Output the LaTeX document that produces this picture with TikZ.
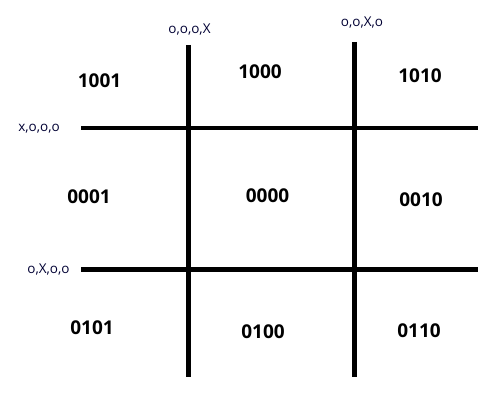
\documentclass[tikz,border=0pt]{standalone}
\usepackage{fontspec}
\setmainfont{Open Sans}
\begin{document}
\begin{tikzpicture}[x=1pt,y=-1pt,line cap=butt,
  code/.style={font=\fontsize{19}{21}\selectfont\bfseries},
  tag/.style={font=\fontsize{13.5}{15}\selectfont,text=black!80!blue}]
\useasboundingbox (0,0) rectangle (496,406);
\def\xa{188.5}\def\xb{354.5}\def\ya{128}\def\yb{269.5}
% grid
\draw[line width=4.5pt] (\xa,45)--(\xa,377);
\draw[line width=4.5pt] (\xb,42)--(\xb,377);
\draw[line width=4.5pt] (81,\ya)--(478,\ya);
\draw[line width=4.5pt] (81,\yb)--(478,\yb);
% line labels
\node[tag] (tv1) at (189.5,30) {o,o,o,X};
\node[tag] (tv2) at (362,23) {o,o,X,o};
\node[tag] (th1) at (39,129) {x,o,o,o};
\node[tag] (th2) at (48.5,270) {o,X,o,o};
% region codes
\foreach \x/\y/\c in {99.5/81/1001, 260/72/1000, 420/76/1010,
  89/197/0001, 267.5/196/0000, 421/200/0010,
  92/328/0101, 263/332/0100, 419/331/0110}
  \node[code] (r\c) at (\x,\y) {\c};
\end{tikzpicture}
\end{document}
